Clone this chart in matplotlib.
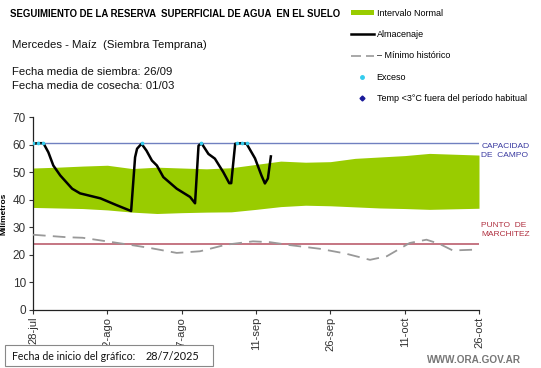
import matplotlib
matplotlib.use("Agg")
import matplotlib.pyplot as plt
from matplotlib.lines import Line2D
from matplotlib.patches import Patch, Rectangle

plt.rcParams['font.family'] = ['Liberation Sans', 'DejaVu Sans']

# ---------------- data ----------------
xtick_days = [0, 15, 30, 45, 60, 75, 90]
xtick_labels = ['28-jul', '12-ago', '27-ago', '11-sep', '26-sep', '11-oct', '26-oct']

band_days = [0, 5, 10, 15, 20, 25, 30, 35, 40, 45, 50, 55, 60, 65, 70, 75, 80, 85, 90]
band_upper = [51.5, 51.8, 52.2, 52.5, 51.3, 51.8, 51.5, 51.2, 51.6, 52.8, 54.0, 53.6, 53.8, 55.0, 55.5, 56.0, 56.8, 56.5, 56.2]
band_lower = [37.2, 37.0, 36.8, 36.3, 35.5, 35.0, 35.3, 35.5, 35.6, 36.5, 37.5, 38.0, 37.8, 37.4, 37.0, 36.8, 36.5, 36.7, 36.9]

alm_days = [0, 1, 2.1, 3.1, 4.1, 5.5, 7.9, 9.5, 13.6, 16.9, 19.8, 20.6, 21.0, 21.9,
            22.9, 24.0, 25.0, 26.3, 29.0, 31.7, 32.7, 33.4, 34.0, 35.4, 36.7, 38.4,
            39.6, 40.0, 40.8, 42.0, 43.1, 44.8, 46.1, 46.8, 47.4, 48.0]
alm_values = [60.3, 60.5, 60.5, 57.2, 52.4, 48.8, 44.0, 42.3, 40.5, 38.0, 35.9, 55.4, 58.5, 60.3,
              57.8, 54.2, 52.4, 48.2, 44.0, 41.0, 38.7, 59.6, 60.5, 56.6, 54.9, 50.0,
              46.0, 46.0, 60.3, 60.5, 60.3, 55.0, 48.8, 45.9, 47.7, 55.7]

min_days = [0, 6.8, 10, 14.9, 19, 23.6, 29, 33.7, 39, 44.4, 47.8, 52, 57.9, 63, 68, 71.4, 76, 79.4, 82, 84.7, 89.4]
min_values = [27.3, 26.4, 26.2, 24.9, 23.8, 22.5, 20.7, 21.3, 23.7, 24.9, 24.6, 23.5, 22.2, 20.5, 18.2, 19.5, 24.3, 25.5, 24.0, 21.6, 21.9]

exceso_days = [0, 1, 2, 21.9, 34.0, 41.2, 42.2, 43.1]
exceso_values = [60.5, 60.7, 60.6, 60.6, 60.6, 60.6, 60.5, 60.6]

capacidad = 60.5
marchitez = 24.0

# ---------------- figure ----------------
W, H = 541, 368
fig = plt.figure(figsize=(W / 100, H / 100), dpi=100)
ax = fig.add_axes([33 / W, 1 - 310 / H, (479 - 33) / W, (310 - 117) / H])

green = '#99cc00'
ax.fill_between(band_days, band_lower, band_upper, color=green, lw=0, zorder=1)
ax.axhline(capacidad, color='#7080c0', lw=1.0, zorder=2)
ax.axhline(marchitez, color='#c06a78', lw=1.3, zorder=2)
ax.plot(min_days, min_values, color='#999999', lw=1.3, dashes=(7, 4), zorder=3)
ax.plot(alm_days, alm_values, color='black', lw=1.8, zorder=4)
ax.scatter(exceso_days, exceso_values, s=7, color='#33ccee', zorder=5, lw=0)

ax.set_xlim(0, 90)
ax.set_ylim(0, 70)
ax.set_yticks(range(0, 71, 10))
ax.set_xticks(xtick_days)
ax.set_xticklabels(xtick_labels, rotation=90, fontsize=8)
ax.tick_params(axis='y', labelsize=8.5, length=3, width=0.8, pad=2, colors='#333333')
ax.tick_params(axis='x', length=3, width=0.8, pad=2, colors='#333333')
for s in ['top', 'right']:
    ax.spines[s].set_visible(False)
for s in ['left', 'bottom']:
    ax.spines[s].set_color('#222222')
    ax.spines[s].set_linewidth(0.9)
ax.set_ylabel('Milímetros', fontsize=6, fontweight='bold', labelpad=4)

# right-side labels
ax.text(1.005, capacidad / 70, 'CAPACIDAD\nDE  CAMPO', transform=ax.transAxes,
        fontsize=6, color='#3a3aa0', va='top', ha='left', linespacing=1.3)
ax.text(1.005, 0.455, 'PUNTO  DE\nMARCHITEZ', transform=ax.transAxes,
        fontsize=6, color='#b03040', va='top', ha='left', linespacing=1.3)

# header texts
fig.text(10 / W, 1 - 14 / H, 'SEGUIMIENTO DE LA RESERVA  SUPERFICIAL DE AGUA  EN EL SUELO',
         fontsize=6.95, fontweight='bold', va='center', ha='left')
fig.text(12 / W, 1 - 45 / H, 'Mercedes - Maíz  (Siembra Temprana)', fontsize=8.2,
         va='center', ha='left', color='#111111')
fig.text(12 / W, 1 - 72 / H, 'Fecha media de siembra: 26/09', fontsize=8.2,
         va='center', ha='left', color='#111111')
fig.text(12 / W, 1 - 86 / H, 'Fecha media de cosecha: 01/03', fontsize=8.2,
         va='center', ha='left', color='#111111')

# legend
handles = [
    Patch(facecolor=green, edgecolor='none'),
    Line2D([], [], color='black', lw=1.8),
    Line2D([], [], color='#999999', lw=1.2, dashes=(6, 3)),
    Line2D([], [], color='#33ccee', marker='o', ms=2.5, ls='none'),
    Line2D([], [], color='#1a1a99', marker='D', ms=2.5, ls='none'),
]
labels = ['Intervalo Normal', 'Almacenaje', '– Mínimo histórico', 'Exceso',
          'Temp <3°C fuera del período habitual']
fig.legend(handles, labels, loc='upper left', bbox_to_anchor=(346 / W, 1 - 4 / H),
           frameon=False, fontsize=6.5, labelspacing=1.38, handlelength=2.6,
           handletextpad=0.3, handleheight=0.5, borderpad=0)

# bottom box
fig.patches.append(Rectangle((5 / W, 1 - 366 / H), 208 / W, 21 / H, transform=fig.transFigure,
                             facecolor='white', edgecolor='#888888', lw=0.8))
fig.text(12 / W, 1 - 356 / H, 'Fecha de inicio del gráfico:', fontsize=7.6,
         family='Lato', va='center', ha='left', color='#111111')
fig.text(146 / W, 1 - 356 / H, '28/7/2025', fontsize=7.8,
         family='Lato', va='center', ha='left', color='#111111')

fig.text(427 / W, 1 - 360 / H, 'WWW.ORA.GOV.AR', fontsize=7.2, fontweight='bold',
         color='#777777', va='center', ha='left')

fig.savefig('out.png', dpi=100)
